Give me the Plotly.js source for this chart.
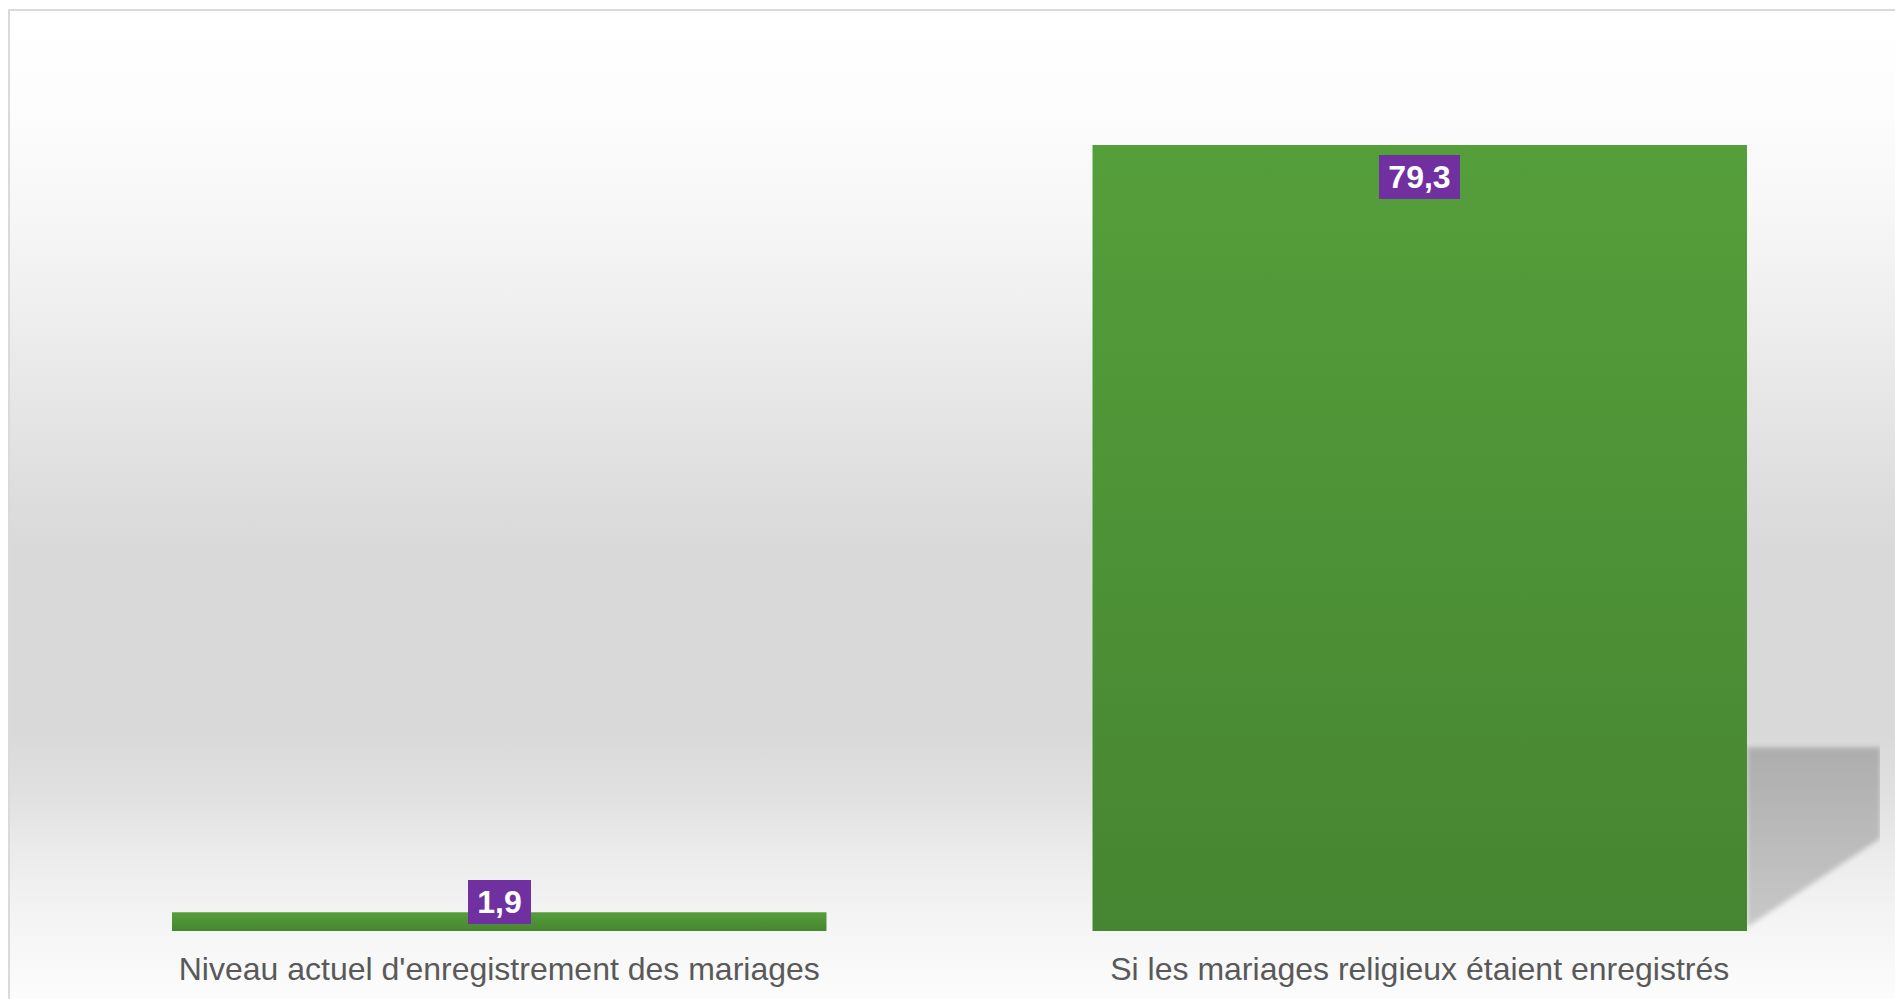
<!DOCTYPE html>
<html><head><meta charset="utf-8">
<script src="https://cdn.plot.ly/plotly-3.0.1.min.js"></script>
<style>
html,body{margin:0;padding:0;width:1895px;height:999px;overflow:hidden;background:#ffffff;}
#frame{position:absolute;left:8px;top:9px;width:2000px;height:1000px;
  border-left:2px solid #dadada;border-top:2px solid #dadada;
  background:linear-gradient(to bottom,#ffffff 0%,#fdfdfd 9%,#f7f7f7 19.6%,#efefef 29.4%,#e6e6e6 39%,#dedede 47.7%,#d9d9d9 53.8%,#d9d9d9 72%,#e0e0e0 78%,#ebebeb 84%,#f3f3f3 90%,#fafafa 96.5%,#fdfdfd 100%);}
#chart{position:absolute;left:0;top:0;width:1895px;height:999px;}
</style></head>
<body><div id="frame"></div><div id="chart"></div>
<script>
// ---- data ----
const categories = ["Niveau actuel d'enregistrement des mariages", "Si les mariages religieux étaient enregistrés"];
const values = [1.9, 79.3];
const valueLabels = ["1,9", "79,3"];

// ---- style ----
const BARGAP = 0.289;
const barHalf = (1 - BARGAP) / 2;
const LABEL_FONT = 'Liberation Sans, Arial, sans-serif';
const LABEL_SIZE = 32;
const shadowSvg = '<svg xmlns="http://www.w3.org/2000/svg" width="150" height="200" viewBox="0 0 150 200" preserveAspectRatio="none">' +
  '<defs><linearGradient id="sg" x1="0" y1="0" x2="0" y2="1"><stop offset="0" stop-color="#adadad"/><stop offset="1" stop-color="#c8c8c8"/></linearGradient>' +
  '<filter id="bl" x="-10%" y="-10%" width="120%" height="120%"><feGaussianBlur stdDeviation="2.5"/></filter></defs>' +
  '<polygon points="0,10 136,10 136,104 0,196" fill="url(#sg)" filter="url(#bl)"/></svg>';
const shadowUri = 'data:image/svg+xml;charset=utf-8,' + encodeURIComponent(shadowSvg);

const ctx = document.createElement('canvas').getContext('2d');
ctx.font = 'bold ' + LABEL_SIZE + 'px "Liberation Sans", Arial, sans-serif';
const textW = s => Math.ceil(ctx.measureText(s).width);

const trace = {
  type: 'bar',
  x: categories,
  y: values,
  marker: {color: '#4e9236', line: {width: 0}},
  hoverinfo: 'none',
  cliponaxis: false
};

const annotations = categories.map((c, i) => {
  const inside = values[i] > 10;
  return {
    x: c, y: values[i], xref: 'x', yref: 'y',
    text: valueLabels[i], showarrow: false,
    bgcolor: '#7030a0', borderpad: 4, borderwidth: 0,
    width: textW(valueLabels[i]) + 10,
    font: {family: LABEL_FONT, size: LABEL_SIZE, color: '#ffffff', weight: 'bold'},
    xanchor: 'center', yanchor: inside ? 'top' : 'bottom', yshift: inside ? -10 : -12
  };
});

const layout = {
  width: 1895, height: 999,
  margin: {l: 39, r: 15, t: 138, b: 68, autoexpand: false},
  paper_bgcolor: 'rgba(0,0,0,0)', plot_bgcolor: 'rgba(0,0,0,0)',
  bargap: BARGAP,
  showlegend: false,
  xaxis: {
    showgrid: false, zeroline: false, showline: false, ticks: '',
    ticklabelstandoff: 16,
    tickfont: {family: LABEL_FONT, size: 32, color: '#595959'},
    automargin: false, fixedrange: true
  },
  yaxis: {range: [0, 80], visible: false, showgrid: false, zeroline: false, fixedrange: true},
  annotations: annotations,
  images: [{
    source: shadowUri, xref: 'x', yref: 'y',
    x: 1 + barHalf, y: 19.5, sizex: 0.16, sizey: 19.5,
    xanchor: 'left', yanchor: 'top', sizing: 'stretch', layer: 'below'
  }]
};

const gd = document.getElementById('chart');
Plotly.newPlot(gd, [trace], layout, {displayModeBar: false, staticPlot: true}).then(() => {
  const svg = gd.querySelector('svg.main-svg');
  const NS = 'http://www.w3.org/2000/svg';
  let defs = svg.querySelector('defs');
  if (!defs) { defs = document.createElementNS(NS, 'defs'); svg.insertBefore(defs, svg.firstChild); }
  const lg = document.createElementNS(NS, 'linearGradient');
  lg.setAttribute('id', 'barGrad');
  lg.setAttribute('x1', '0'); lg.setAttribute('y1', '0'); lg.setAttribute('x2', '0'); lg.setAttribute('y2', '1');
  [['0', '#559f3b'], ['1', '#468531']].forEach(([o, c]) => {
    const s = document.createElementNS(NS, 'stop');
    s.setAttribute('offset', o); s.setAttribute('stop-color', c);
    lg.appendChild(s);
  });
  defs.appendChild(lg);
  gd.querySelectorAll('.bars .point path').forEach(p => { p.style.fill = 'url(#barGrad)'; });
});
</script>
</body></html>
